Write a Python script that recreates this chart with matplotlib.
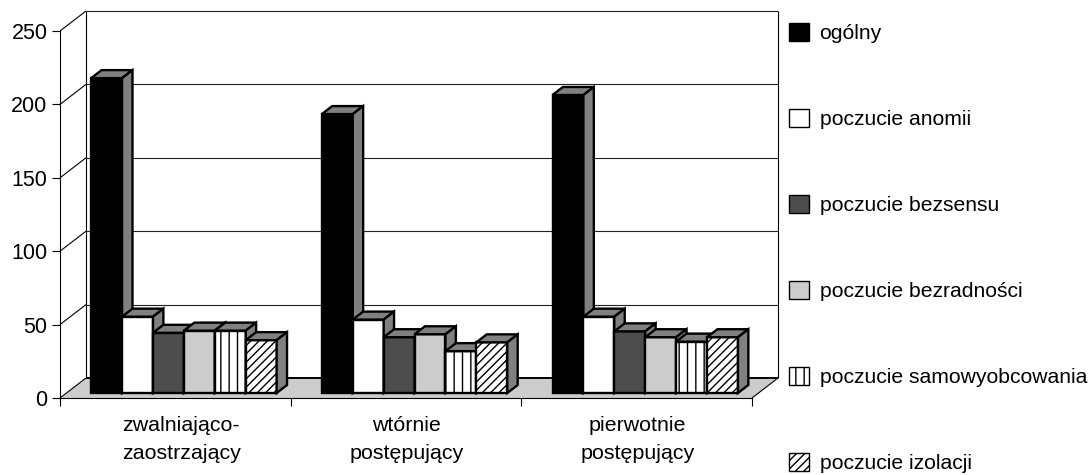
import matplotlib
matplotlib.use('Agg')
from matplotlib import pyplot as plt
from matplotlib.patches import Patch, Polygon

plt.rcParams['font.family'] = ['Liberation Sans', 'DejaVu Sans']
plt.rcParams['hatch.linewidth'] = 1.0

categories = ['zwalniająco-\nzaostrzający', 'wtórnie\npostępujący', 'pierwotnie\npostępujący']
series_names = ['ogólny', 'poczucie anomii', 'poczucie bezsensu', 'poczucie bezradności',
                'poczucie samowyobcowania', 'poczucie izolacji']
ogolny = [214.5, 190, 203]
anomia = [52, 50, 52]
bezsens = [41, 38, 42]
bezradnosc = [42.5, 40, 38]
samowyobcowanie = [42.5, 28.5, 35]
izolacja = [36, 34.5, 38]
y_ticks = [0, 50, 100, 150, 200, 250]

values = [ogolny, anomia, bezsens, bezradnosc, samowyobcowanie, izolacja]
colors = ['black', 'white', '#4d4d4d', '#cccccc', 'white', 'white']
hatches = [None, None, None, None, '||', '////']

W, H = 1091, 475
fig = plt.figure(figsize=(W / 100, H / 100), dpi=100)
ax = fig.add_axes([60 / W, (H - 398) / H, 692 / W, 367 / H])
ax.set_xlim(0, 3)
ax.set_ylim(0, 250)

# oblique projection, depth d runs 0 (front) to 1 (back wall)
DX = 26 / 230.7
DY = 20 / 1.468
def proj(x, v, d):
    return (x + d * DX, v + d * DY)

def poly(pts, fc, ec='black', lw=1.7, z=1):
    ax.add_patch(Polygon(pts, closed=True, fc=fc, ec=ec, lw=lw, zorder=z, clip_on=False, joinstyle='miter'))

def line(p1, p2, color='black', lw=0.8, z=1):
    ax.plot([p1[0], p2[0]], [p1[1], p2[1]], color=color, lw=lw, zorder=z, clip_on=False, solid_capstyle='butt')

# walls and floor
poly([proj(0, 0, 0), proj(3, 0, 0), proj(3, 0, 1), proj(0, 0, 1)], '#cccccc', ec='none', lw=0, z=0.5)
line(proj(0, 0, 1), proj(3, 0, 1), lw=1.4)
line(proj(0, 0, 0), proj(0, 0, 1))
line(proj(3, 0, 0), proj(3, 0, 1))
line(proj(0, 0, 1), proj(0, 250, 1))
line(proj(3, 0, 1), proj(3, 250, 1))
for t in y_ticks[1:]:
    line(proj(0, t, 0), proj(0, t, 1))
    line(proj(0, t, 1), proj(3, t, 1), color='#222222')

# bars, left to right so that later ones cover the side of earlier ones
bar_w = 0.134
start = 0.107
d0, d1 = 0.25, 0.65
z = 2
for g in range(len(categories)):
    for s in range(len(series_names)):
        v = values[s][g]
        x0 = g + start + s * bar_w
        x1 = x0 + bar_w
        fx0, fy0 = proj(x0, 0, d0)
        ax.bar(fx0, v, width=bar_w, bottom=fy0, align='edge', color=colors[s], hatch=hatches[s],
               edgecolor='black', linewidth=1.7, zorder=z, clip_on=False)
        poly([proj(x0, v, d0), proj(x1, v, d0), proj(x1, v, d1), proj(x0, v, d1)], '#808080', z=z + 0.1)
        poly([proj(x1, 0, d0), proj(x1, v, d0), proj(x1, v, d1), proj(x1, 0, d1)], '#808080', z=z + 0.1)
        z += 1

# axes
for side in ['top', 'right']:
    ax.spines[side].set_visible(False)
for side in ['left', 'bottom']:
    ax.spines[side].set_linewidth(0.8)
ax.set_yticks(y_ticks)
ax.tick_params(axis='y', labelsize=15.5, length=6, width=0.8, pad=3)
ax.set_xticks([0, 1, 2, 3])
ax.set_xticklabels([])
ax.tick_params(axis='x', which='major', length=6, width=0.8)
ax.set_xticks([0.525, 1.503, 2.503], categories, minor=True)
ax.tick_params(axis='x', which='minor', length=0, labelsize=15.4, pad=13)
for lab in ax.get_xticklabels(minor=True):
    lab.set_linespacing(1.62)

handles = [Patch(fc=c, ec='black', hatch=h, lw=1.0) for c, h in zip(colors, hatches)]
leg = ax.legend(handles, series_names, loc='upper left', bbox_to_anchor=(789 / W, (H - 23) / H),
                bbox_transform=fig.transFigure, frameon=False, fontsize=15.2, borderpad=0, borderaxespad=0,
                handlelength=0.95, handleheight=0.95, handletextpad=0.5, labelspacing=3.11)

fig.savefig('out.png', dpi=100)
